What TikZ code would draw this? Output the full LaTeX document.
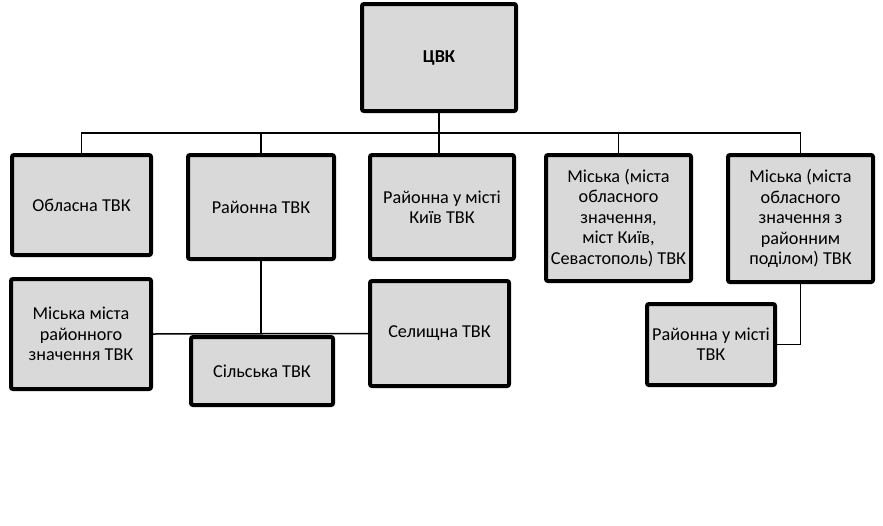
\documentclass[tikz,border=0pt]{standalone}
\usepackage{fontspec}
\setmainfont{Carlito}
\definecolor{boxfill}{HTML}{D9D9D9}
\begin{document}
\begin{tikzpicture}[x=1pt,y=-1pt,
  org/.style={draw=black, line width=4pt, fill=boxfill, rounded corners=2pt,
    align=center, inner sep=1pt, font=\fontsize{18.2}{20.4}\selectfont},
  conn/.style={draw=black, line width=1.5pt}]
\useasboundingbox (0,0) rectangle (883,525);
\node[org, minimum width=154pt, minimum height=107pt, font=\fontsize{18.2}{20.4}\selectfont\bfseries] (cvk) at (439,57.5) {ЦВК};
\node[org, minimum width=139pt, minimum height=100pt] (obl) at (81.5,205) {Обласна ТВК};
\node[org, minimum width=146pt, minimum height=104pt] (rai) at (261,207) {Районна ТВК};
\node[org, minimum width=144pt, minimum height=104pt] (kyiv) at (442,207) {Районна у місті\\Київ ТВК};
\node[org, minimum width=145pt, minimum height=126pt] (mis1) at (618.5,218) {Міська (міста\\обласного\\значення,\\міст Київ,\\Севастополь) ТВК};
\node[org, minimum width=145pt, minimum height=127pt] (mis2) at (800.5,218.5) {Міська (міста\\обласного\\значення з\\районним\\поділом) ТВК};
\node[org, minimum width=140pt, minimum height=110pt] (mism) at (81,334) {Міська міста\\районного\\значення ТВК};
\node[org, minimum width=142pt, minimum height=68pt] (sil) at (262,371) {Сільська ТВК};
\node[org, minimum width=139pt, minimum height=105pt] (sel) at (439.5,333.5) {Селищна ТВК};
\node[org, minimum width=128pt, minimum height=81pt] (rum) at (711,344.5) {Районна у місті\\ТВК};
\coordinate (bus) at (0,133);
\draw[conn] (obl.north) -- (obl.north |- bus) -- (mis2.north |- bus) -- (mis2.north);
\draw[conn] (rai.north) -- (rai.north |- bus);
\draw[conn] (mis1.north) -- (mis1.north |- bus);
\draw[conn] (cvk.south) -- (cvk.south |- kyiv.north);
\draw[conn] (mism.east) -- (sel.west);
\draw[conn] (rai.south) -- (rai.south |- mism.east);
\draw[conn] (mis2.south) |- (rum.east);
\end{tikzpicture}
\end{document}
